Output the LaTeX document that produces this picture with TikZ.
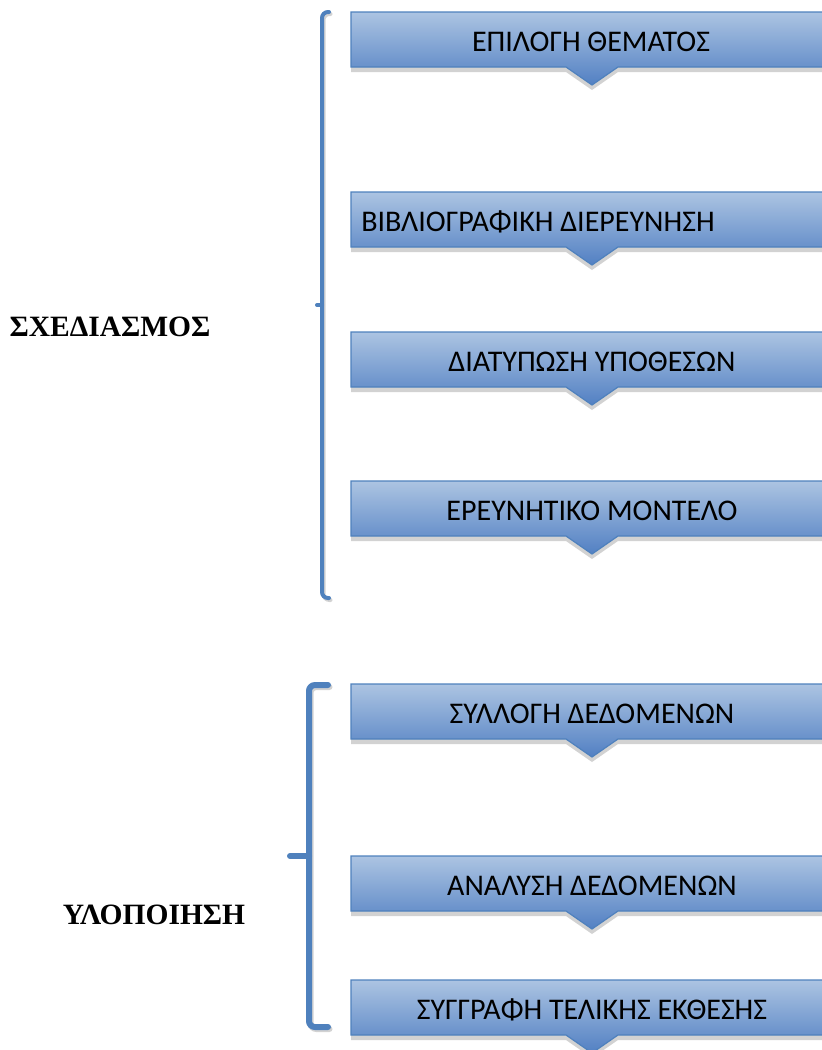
\documentclass[tikz,border=0pt]{standalone}
\usepackage{fontspec}
\newfontfamily\boxfont{Carlito}
\newfontfamily\labelfont{Liberation Serif}
\definecolor{stageTop}{RGB}{172,196,226}
\definecolor{stageBot}{RGB}{82,128,195}
\definecolor{stageEdge}{RGB}{79,129,189}
\definecolor{braceBlue}{RGB}{79,129,189}
\definecolor{shadowGrey}{RGB}{210,210,210}

\tikzset{
  stagetext/.style={font=\boxfont\fontsize{30}{32}\selectfont, inner sep=0pt, text=black},
  phaselabel/.style={font=\labelfont\bfseries\fontsize{29.5}{32}\selectfont, inner sep=0pt, text=black},
  stagefill/.style={top color=stageTop, bottom color=stageBot, draw=stageEdge, line width=1.2pt},
  stageshadow/.style={fill=shadowGrey},
  bracket/.style={draw=braceBlue, line cap=round, rounded corners=6pt},
  bracketshadow/.style={draw=shadowGrey, line cap=round, rounded corners=6pt},
}

% one stage: #1 node name, #2 top edge, #3 text centre x, #4 text
\newcommand\stagebox[4]{%
  \path[stageshadow, shift={(0,5)}]
    (351,#2) -- (836,#2) -- (836,#2+55) -- (618,#2+55) -- (592,#2+73)
    -- (566,#2+55) -- (351,#2+55) -- cycle;
  \path[stagefill]
    (351,#2) -- (836,#2) -- (836,#2+55) -- (618,#2+55) -- (592,#2+73)
    -- (566,#2+55) -- (351,#2+55) -- cycle;
  \node[stagetext] (#1) at (#3,#2+30) {#4};
}

\begin{document}
\begin{tikzpicture}[x=1pt, y=-1pt]
  \useasboundingbox (0,0) rectangle (822,1050);
  \clip (0,0) rectangle (822,1050);

  % stages
  \stagebox{topic}{12}{591}{ΕΠΙΛΟΓΗ ΘΕΜΑΤΟΣ}
  \stagebox{review}{192}{538}{ΒΙΒΛΙΟΓΡΑΦΙΚΗ ΔΙΕΡΕΥΝΗΣΗ}
  \stagebox{hypo}{332}{592}{ΔΙΑΤΥΠΩΣΗ ΥΠΟΘΕΣΩΝ}
  \stagebox{model}{481}{592}{ΕΡΕΥΝΗΤΙΚΟ ΜΟΝΤΕΛΟ}
  \stagebox{collect}{684}{592}{ΣΥΛΛΟΓΗ ΔΕΔΟΜΕΝΩΝ}
  \stagebox{analyse}{856}{592}{ΑΝΑΛΥΣΗ ΔΕΔΟΜΕΝΩΝ}
  \stagebox{report}{980}{592}{ΣΥΓΓΡΑΦΗ ΤΕΛΙΚΗΣ ΕΚΘΕΣΗΣ}

  % phase labels
  \node[phaselabel] (plan) at (110,327) {ΣΧΕΔΙΑΣΜΟΣ};
  \node[phaselabel] (build) at (154,915) {ΥΛΟΠΟΙΗΣΗ};

  % upper bracket
  \draw[bracketshadow, line width=4pt, shift={(1.5,2)}]
    (329,12) -- (322,12) -- (322,598) -- (329,598);
  \draw[bracket, line width=4pt]
    (329,12) -- (322,12) -- (322,598) -- (329,598);
  \draw[braceBlue, line width=4pt, line cap=round] (322,305) -- (317,305);

  % lower bracket
  \draw[bracketshadow, line width=6pt, shift={(1.5,2)}]
    (328,685) -- (309,685) -- (309,1027) -- (328,1027);
  \draw[bracket, line width=6pt]
    (328,685) -- (309,685) -- (309,1027) -- (328,1027);
  \draw[braceBlue, line width=6pt, line cap=round] (309,856) -- (290,856);
\end{tikzpicture}
\end{document}
